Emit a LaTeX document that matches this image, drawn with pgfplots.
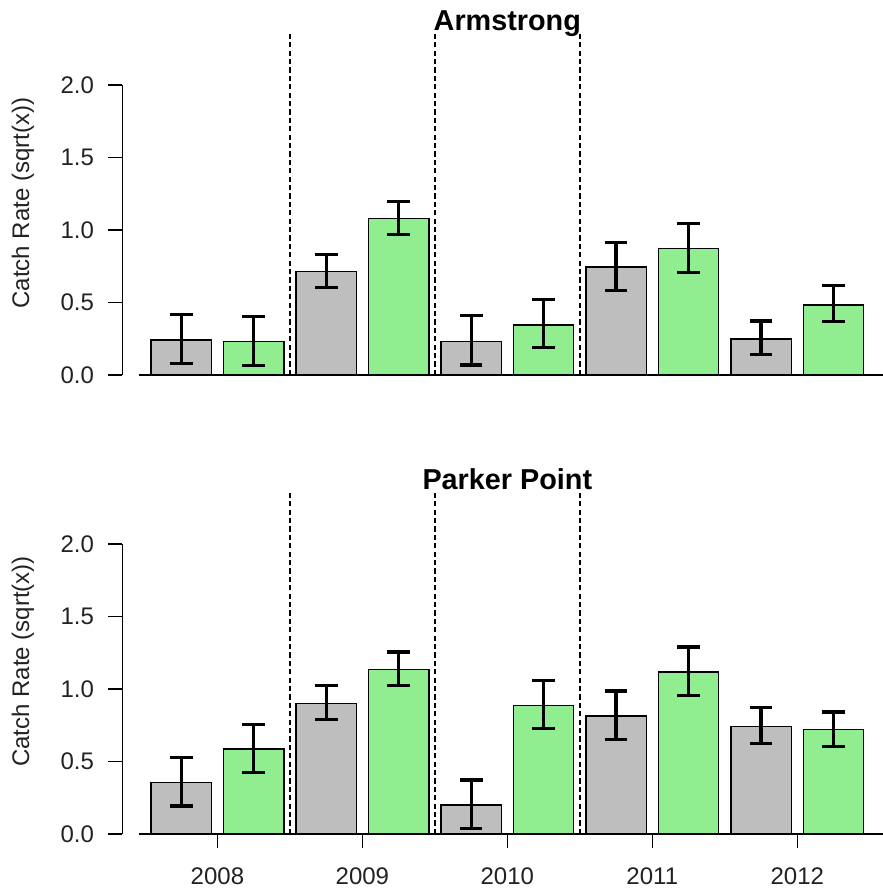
\documentclass[border=0pt]{standalone}
\usepackage{fontspec}
\setmainfont{Liberation Sans}
\usepackage{pgfplots}
\pgfplotsset{compat=1.18}
\usepackage{pgfplotstable}
\definecolor{bargray}{HTML}{BEBEBE}
\definecolor{bargreen}{HTML}{90EE90}
\definecolor{txt}{HTML}{222222}

% Armstrong
\pgfplotstableread{
x y ep em
0.7 0.242 0.177 0.161
3.1 0.714 0.115 0.108
5.5 0.230 0.178 0.161
7.9 0.744 0.170 0.163
10.3 0.249 0.124 0.106
}\armgray
\pgfplotstableread{
x y ep em
1.9 0.230 0.173 0.166
4.3 1.078 0.120 0.110
6.7 0.346 0.172 0.155
9.1 0.871 0.173 0.164
11.5 0.484 0.131 0.116
}\armgreen
% Parker Point
\pgfplotstableread{
x y ep em
0.7 0.356 0.172 0.163
3.1 0.899 0.126 0.110
5.5 0.200 0.172 0.161
7.9 0.814 0.172 0.160
10.3 0.743 0.129 0.119
}\pargray
\pgfplotstableread{
x y ep em
1.9 0.585 0.172 0.163
4.3 1.136 0.119 0.111
6.7 0.888 0.172 0.161
9.1 1.117 0.172 0.160
11.5 0.721 0.121 0.120
}\pargreen

\pgfplotsset{
  panel/.style={
    anchor=origin, x=30.2pt, y=72.5pt,
    xmin=-0.272, xmax=12.472, ymin=0, ymax=2,
    clip=false,
    axis y line*=left, axis x line*=bottom,
    x axis line style={draw=none},
    axis line style={black, line width=0.6pt},
    ytick={0,0.5,1,1.5,2},
    tick align=outside, major tick length=7.2pt,
    tick style={black, line width=0.6pt},
    /pgf/number format/assume math mode=true,
    yticklabel style={/pgf/number format/.cd, fixed, fixed zerofill, precision=1, /tikz/.cd,
      font=\fontsize{12}{14}\selectfont, text=txt, xshift=-3.5pt},
    xticklabel style={font=\fontsize{12}{14}\selectfont, text=txt, yshift=-6pt},
  },
  grbar/.style={ybar, bar width=1, bar shift=0pt, draw=black, line width=0.7pt,
    error bars/.cd, y dir=both, y explicit,
    error bar style={black, line width=1.6pt},
    error mark options={rotate=90, black, mark size=5.7pt, line width=1.6pt}},
  vdash/.style={black, line width=0.7pt, dash pattern=on 2.6pt off 1.6pt},
}

\begin{document}
\begin{tikzpicture}
\useasboundingbox (-69.45pt,-28pt) rectangle (372.05pt,417pt);
% top panel
\begin{axis}[panel, at={(0pt,229.5pt)}, xtick=\empty]
  \addplot[black, line width=0.6pt] coordinates {(0,0) (12.4,0)};
  \addplot[fill=bargray, grbar] table[x=x, y=y, y error plus=ep, y error minus=em] {\armgray};
  \addplot[fill=bargreen, grbar] table[x=x, y=y, y error plus=ep, y error minus=em] {\armgreen};
  \addplot[vdash] coordinates {(2.5,0) (2.5,2.36)};
  \addplot[vdash] coordinates {(4.9,0) (4.9,2.36)};
  \addplot[vdash] coordinates {(7.3,0) (7.3,2.36)};
  \node[font=\fontsize{14.4}{17}\selectfont\bfseries, anchor=base] at (axis cs:6.1,2.377) {Armstrong};
  \node[rotate=90, font=\fontsize{12}{14}\selectfont, text=txt] at (axis cs:-1.92,1.185) {Catch Rate (sqrt(x))};
\end{axis}
% bottom panel
\begin{axis}[panel, at={(0pt,0pt)},
  xtick={1.3,3.7,6.1,8.5,10.9}, xticklabels={2008,2009,2010,2011,2012}]
  \addplot[black, line width=0.6pt] coordinates {(0,0) (12.4,0)};
  \addplot[fill=bargray, grbar] table[x=x, y=y, y error plus=ep, y error minus=em] {\pargray};
  \addplot[fill=bargreen, grbar] table[x=x, y=y, y error plus=ep, y error minus=em] {\pargreen};
  \addplot[vdash] coordinates {(2.5,0) (2.5,2.363)};
  \addplot[vdash] coordinates {(4.9,0) (4.9,2.363)};
  \addplot[vdash] coordinates {(7.3,0) (7.3,2.363)};
  \node[font=\fontsize{14.4}{17}\selectfont\bfseries, anchor=base] at (axis cs:6.1,2.374) {Parker Point};
  \node[rotate=90, font=\fontsize{12}{14}\selectfont, text=txt] at (axis cs:-1.92,1.19) {Catch Rate (sqrt(x))};
\end{axis}
\end{tikzpicture}
\end{document}
